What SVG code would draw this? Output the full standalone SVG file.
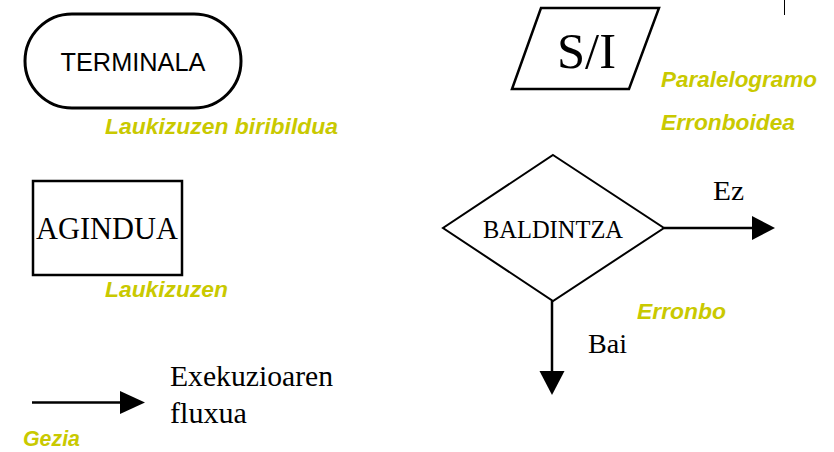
<svg xmlns="http://www.w3.org/2000/svg" width="834" height="452" viewBox="0 0 834 452">
<style>
.shape{fill:#fff;stroke:#000;stroke-linejoin:miter}
.lbl{font-family:"Liberation Serif","Times New Roman",serif;fill:#000}
.sans{font-family:"Liberation Sans",Arial,sans-serif;fill:#000}
.note{font-family:"Liberation Sans",Arial,sans-serif;font-weight:bold;font-style:italic;font-size:22.5px;fill:#c9c900}
.conn{stroke:#000;stroke-width:2.5;fill:none}
.head{fill:#000}
</style>
<rect width="834" height="452" fill="#fff"/>
<g id="terminal">
<rect class="shape" x="25" y="14" width="216" height="94" rx="47" ry="47" stroke-width="3"/>
<text class="sans" x="133" y="71" font-size="25.5" text-anchor="middle" textLength="145" lengthAdjust="spacingAndGlyphs">TERMINALA</text>
<text class="note" x="105" y="134" textLength="233" lengthAdjust="spacingAndGlyphs">Laukizuzen biribildua</text>
</g>
<g id="io">
<polygon class="shape" points="541,8 659,8 629,89 512,89" stroke-width="2.5"/>
<text class="lbl" x="557" y="68" font-size="51" textLength="59" lengthAdjust="spacingAndGlyphs">S/I</text>
<text class="note" x="661" y="86.5" textLength="156" lengthAdjust="spacingAndGlyphs">Paralelogramo</text>
<text class="note" x="661" y="130" textLength="134" lengthAdjust="spacingAndGlyphs">Erronboidea</text>
</g>
<line x1="784.5" y1="0" x2="784.5" y2="15" stroke="#000" stroke-width="1"/>
<g id="process">
<rect class="shape" x="33" y="181" width="149" height="94" stroke-width="2.5"/>
<text class="lbl" x="36" y="239" font-size="31" textLength="142" lengthAdjust="spacingAndGlyphs">AGINDUA</text>
<text class="note" x="105" y="297" textLength="123" lengthAdjust="spacingAndGlyphs">Laukizuzen</text>
</g>
<g id="decision">
<polygon class="shape" points="553,155 664,228 553,301 443,228" stroke-width="2"/>
<text class="lbl" x="483" y="238" font-size="24.5" textLength="140" lengthAdjust="spacingAndGlyphs">BALDINTZA</text>
<text class="note" x="637" y="319" textLength="89" lengthAdjust="spacingAndGlyphs">Erronbo</text>
</g>
<g id="connectors">
<line class="conn" x1="664" y1="228" x2="753" y2="228"/>
<polygon class="head" points="752,216 775,228 752,240"/>
<text class="lbl" x="713" y="199.5" font-size="28" textLength="31" lengthAdjust="spacingAndGlyphs">Ez</text>
<line class="conn" x1="552" y1="301" x2="552" y2="372"/>
<polygon class="head" points="539.5,371 564.5,371 552,395"/>
<text class="lbl" x="588" y="353" font-size="28" textLength="39" lengthAdjust="spacingAndGlyphs">Bai</text>
<line class="conn" x1="32" y1="402.5" x2="121" y2="402.5"/>
<polygon class="head" points="120,391 145,402.5 120,414"/>
<text class="lbl" x="170" y="386" font-size="29" textLength="163" lengthAdjust="spacingAndGlyphs">Exekuzioaren</text>
<text class="lbl" x="170" y="423" font-size="29" textLength="77" lengthAdjust="spacingAndGlyphs">fluxua</text>
<text class="note" x="23" y="446" textLength="57" lengthAdjust="spacingAndGlyphs">Gezia</text>
</g>
</svg>
